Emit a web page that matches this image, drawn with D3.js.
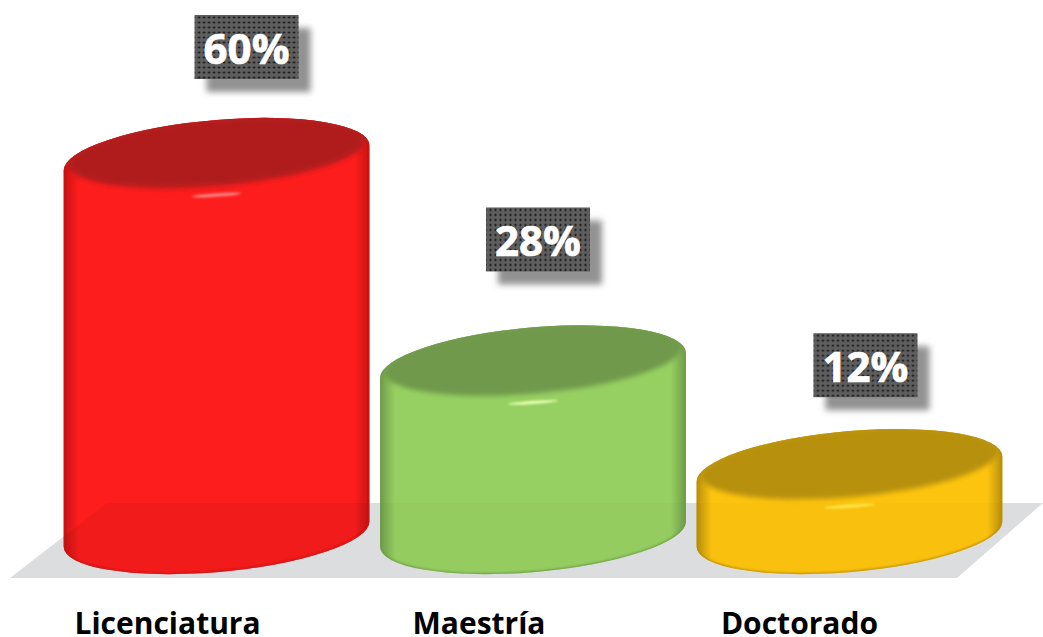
<!DOCTYPE html>
<html>
<head>
<meta charset="utf-8">
<script src="https://cdn.jsdelivr.net/npm/d3@7"></script>
<style>
html, body { margin: 0; padding: 0; background: #fff; overflow: hidden; }
svg { display: block; }
</style>
</head>
<body>
<div id="graph"></div>
<script>
//chart values
const categories = ["Licenciatura", "Maestría", "Doctorado"];
const values = [60, 28, 12];
const bodyColors = ["#fe1d1d", "#97d062", "#fdc40f"];
const edgeColors = ["#c81414", "#6f9c49", "#b98f0c"];
const capColors = ["#b01b1b", "#70994c", "#b7910f"];
const shineColors = ["#ff8a8a", "#e6ffb0", "#ffe94d"];
const floorTint = [0.05, 0.015, 0.015];

const width = 1043, height = 637;

//cylinder shape: tilted ellipse
const rx = 153.5, ry = 38, tilt = -5;
const baseY = 534;
const t = tilt * Math.PI / 180;
const halfWidth = Math.sqrt(rx * rx * Math.cos(t) * Math.cos(t) + ry * ry * Math.sin(t) * Math.sin(t));
const sideDy = (rx * rx - ry * ry) * Math.sin(t) * Math.cos(t) / halfWidth;

//how far each value label sits from its cylinder
const labelShift = [[30, -103], [5, -118], [16, -96]];
//small nudges of the category names
const nameShift = [0, -5, -1];

const x = d3.scaleBand().domain(categories).range([64, 1002]).paddingInner(0.036).paddingOuter(0);
const y = d3.scaleLinear().domain([0, 60]).range([547, 158]);

const svg = d3.select("#graph").append("svg")
    .attr("width", width)
    .attr("height", height);

const defs = svg.append("defs");

//side shading of each cylinder
categories.forEach(function(c, i) {
    const g = defs.append("linearGradient").attr("id", "body" + i);
    [[0, edgeColors[i]], [0.05, bodyColors[i]], [0.95, bodyColors[i]], [1, edgeColors[i]]].forEach(function(s) {
        g.append("stop").attr("offset", s[0]).attr("stop-color", s[1]);
    });
});

defs.append("filter").attr("id", "soft").attr("x", "-10%").attr("y", "-20%").attr("width", "120%").attr("height", "140%")
    .append("feGaussianBlur").attr("stdDeviation", 2.5);
defs.append("filter").attr("id", "rim").attr("x", "-5%").attr("y", "-5%").attr("width", "110%").attr("height", "110%")
    .append("feGaussianBlur").attr("stdDeviation", 1.2);
defs.append("filter").attr("id", "shine").attr("x", "-20%").attr("y", "-200%").attr("width", "140%").attr("height", "500%")
    .append("feGaussianBlur").attr("stdDeviation", 0.9);
defs.append("filter").attr("id", "shadow").attr("x", "-20%").attr("y", "-20%").attr("width", "140%").attr("height", "140%")
    .append("feGaussianBlur").attr("stdDeviation", 3);

//dotted fill of the value labels
const dots = defs.append("pattern").attr("id", "dots")
    .attr("patternUnits", "userSpaceOnUse").attr("width", 5).attr("height", 5);
dots.append("rect").attr("width", 5).attr("height", 5).attr("fill", "#5e5e5e");
dots.append("circle").attr("cx", 2.5).attr("cy", 2.5).attr("r", 1.1).attr("fill", "#0c0c0c");

//floor
const floorPoints = "10,578 957,578 1043,503 107,503";
svg.append("polygon").attr("points", floorPoints).attr("fill", "#dcdddf");

//outline of a cylinder whose top ellipse is centred at cx,topY
function cylinderPath(cx, topY) {
    const a = " A " + rx + " " + ry + " " + tilt + " 0 1 ";
    return "M" + (cx - halfWidth) + "," + (topY - sideDy)
        + a + (cx + halfWidth) + "," + (topY + sideDy)
        + " L " + (cx + halfWidth) + "," + (baseY + sideDy)
        + a + (cx - halfWidth) + "," + (baseY - sideDy) + " Z";
}

const bars = svg.append("g").selectAll("g")
    .data(categories)
    .enter().append("g")
    .attr("transform", function(d) { return "translate(" + (x(d) + x.bandwidth() / 2) + ",0)"; });

bars.append("clipPath").attr("id", function(d, i) { return "clip" + i; })
    .append("path")
    .attr("d", function(d, i) { return cylinderPath(0, y(values[i])); });

bars.append("path")
    .attr("d", function(d, i) { return cylinderPath(0, y(values[i])); })
    .attr("fill", function(d, i) { return "url(#body" + i + ")"; });

//floor seen through the cylinder
bars.append("g")
    .attr("clip-path", function(d, i) { return "url(#clip" + i + ")"; })
    .append("polygon")
    .attr("points", floorPoints)
    .attr("transform", function(d) { return "translate(" + (-(x(d) + x.bandwidth() / 2)) + ",0)"; })
    .attr("fill", "#000")
    .attr("opacity", function(d, i) { return floorTint[i]; });

//darker rim along the outline
bars.append("g")
    .attr("clip-path", function(d, i) { return "url(#clip" + i + ")"; })
    .append("path")
    .attr("d", function(d, i) { return cylinderPath(0, y(values[i])); })
    .attr("fill", "none")
    .attr("stroke", function(d, i) { return edgeColors[i]; })
    .attr("stroke-width", 2.4)
    .attr("filter", "url(#rim)");

//dark top surface
bars.append("g")
    .attr("clip-path", function(d, i) { return "url(#clip" + i + ")"; })
    .append("ellipse")
    .attr("cx", 0)
    .attr("cy", function(d, i) { return y(values[i]) - 6; })
    .attr("rx", rx - 4)
    .attr("ry", 34)
    .attr("transform", function(d, i) { return "rotate(" + tilt + ",0," + (y(values[i]) - 6) + ")"; })
    .attr("fill", function(d, i) { return capColors[i]; })
    .attr("filter", "url(#soft)");

//highlight below the top edge
bars.append("ellipse")
    .attr("cx", 0)
    .attr("cy", function(d, i) { return y(values[i]) + 37; })
    .attr("rx", 25)
    .attr("ry", 1.6)
    .attr("transform", function(d, i) { return "rotate(-4,0," + (y(values[i]) + 37) + ")"; })
    .attr("fill", function(d, i) { return shineColors[i]; })
    .attr("filter", "url(#shine)");

//value labels
const labels = bars.append("g")
    .attr("transform", function(d, i) {
        return "translate(" + labelShift[i][0] + "," + (y(values[i]) - 40 + labelShift[i][1]) + ")";
    });

labels.append("rect")
    .attr("x", -40).attr("y", 13).attr("width", 104).attr("height", 64)
    .attr("fill", "#929292")
    .attr("filter", "url(#shadow)");

labels.append("rect")
    .attr("x", -52).attr("y", 0).attr("width", 104).attr("height", 64)
    .attr("fill", "url(#dots)");

labels.append("text")
    .attr("x", 0).attr("y", 49)
    .attr("text-anchor", "middle")
    .attr("font-family", "'Open Sans', sans-serif")
    .attr("font-weight", 700)
    .attr("font-size", 42)
    .attr("fill", "#fff")
    .attr("stroke", "#fff")
    .attr("stroke-width", 0.7)
    .text(function(d, i) { return values[i] + "%"; });

//category axis, labels sit a bit left of the cylinders
const axis = svg.append("g")
    .attr("transform", "translate(-49,613)")
    .call(d3.axisBottom(x).tickSize(0).tickPadding(0));
axis.select(".domain").remove();
axis.selectAll("text")
    .attr("dx", function(d, i) { return nameShift[i]; })
    .attr("font-family", "'Open Sans', sans-serif")
    .attr("font-weight", 700)
    .attr("font-size", 30)
    .attr("fill", "#000");
</script>
</body>
</html>
